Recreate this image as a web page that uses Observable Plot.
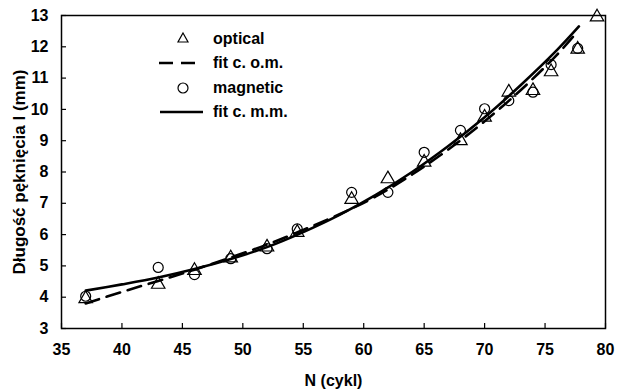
<!DOCTYPE html>
<html>
<head>
<meta charset="utf-8">
<script src="https://cdn.jsdelivr.net/npm/d3@7"></script>
<script src="https://cdn.jsdelivr.net/npm/@observablehq/plot@0.6"></script>
<style>
  html, body { margin: 0; padding: 0; background: #fff; }
  #wrap { position: relative; width: 619px; height: 392px; font-family: "Liberation Sans", Arial, sans-serif; }
  #legend { position: absolute; left: 155px; top: 28px; font-weight: bold; font-size: 16px; color: #000; }
  #legend .row { position: relative; height: 24.3px; line-height: 22px; }
  #legend svg { position: absolute; left: 0; top: 0; }
  #legend span { position: absolute; left: 58px; top: 0; white-space: nowrap; }
</style>
</head>
<body>
<div id="wrap"></div>
<script>
// Data
const N_optical = [37, 43, 46, 49, 52, 54.5, 59, 62, 65, 68, 70, 72, 74, 75.5, 77.7, 79.3];
const L_optical = [3.95, 4.41, 4.85, 5.25, 5.6, 6.07, 7.12, 7.78, 8.31, 9.0, 9.75, 10.55, 10.6, 11.2, 11.92, 12.95];
const N_magnetic = [37, 43, 46, 49, 52, 54.5, 59, 62, 65, 68, 70, 72, 74, 75.5, 77.7];
const L_magnetic = [4.03, 4.95, 4.72, 5.23, 5.55, 6.18, 7.35, 7.35, 8.63, 9.33, 10.02, 10.28, 10.55, 11.43, 11.95];
const N_fit_om = [37, 40, 43, 46, 49, 52, 55, 58, 61, 64, 67, 70, 73, 76, 77.6];
const L_fit_om = [3.80, 4.17, 4.52, 4.88, 5.27, 5.68, 6.15, 6.65, 7.22, 7.92, 8.72, 9.62, 10.62, 11.75, 12.45];
const N_fit_mm = [37, 40, 43, 46, 49, 52, 55, 58, 61, 64, 67, 70, 73, 76, 77.8];
const L_fit_mm = [4.21, 4.41, 4.63, 4.9, 5.22, 5.6, 6.08, 6.63, 7.27, 8.0, 8.83, 9.75, 10.78, 11.9, 12.65];
const xTicks = [35, 40, 45, 50, 55, 60, 65, 70, 75, 80];
const yTicks = [3, 4, 5, 6, 7, 8, 9, 10, 11, 12, 13];
const legendLabels = ["optical", "fit c. o.m.", "magnetic", "fit c. m.m."];

const zip = (xs, ys) => xs.map((x, i) => ({x, y: ys[i]}));
const optical = zip(N_optical, L_optical);
const magnetic = zip(N_magnetic, L_magnetic);
const fitOM = zip(N_fit_om, L_fit_om);
const fitMM = zip(N_fit_mm, L_fit_mm);

const W = 619, H = 392, mL = 61, mR = 14, mT = 15, mB = 64;
const plotW = W - mL - mR, plotH = H - mT - mB;

const chart = Plot.plot({
  width: W, height: H,
  marginLeft: mL, marginRight: mR, marginTop: mT, marginBottom: mB,
  style: {fontFamily: "'Liberation Sans', Arial, sans-serif", fontSize: "16px", fontWeight: "bold", color: "#000", background: "#fff"},
  x: {domain: [35, 80]},
  y: {domain: [3, 13]},
  marks: [
    Plot.axisX({ticks: xTicks, tickSize: 0, tickPadding: 15, label: null, fontSize: 16, fontWeight: "bold"}),
    Plot.axisX({ticks: [], tickSize: 0, label: "N (cykl)", labelAnchor: "center", labelOffset: 57, labelArrow: "none", fontSize: 16, fontWeight: "bold"}),
    Plot.axisY({ticks: yTicks, tickSize: 0, tickPadding: 13, label: null, fontSize: 16, fontWeight: "bold"}),
    Plot.axisY({ticks: [], tickSize: 0, label: "Długość pęknięcia l (mm)", labelAnchor: "center", labelOffset: 49, labelArrow: "none", fontSize: 17, fontWeight: "bold"}),
    Plot.ruleX(xTicks, {x: d => d, insetTop: plotH - 5, stroke: "#000", strokeWidth: 1.2}),
    Plot.ruleY(yTicks, {y: d => d, insetRight: plotW - 5, stroke: "#000", strokeWidth: 1.2}),
    Plot.line(fitOM, {x: "x", y: "y", curve: "catmull-rom", stroke: "#000", strokeWidth: 2.6, strokeDasharray: "14,8"}),
    Plot.line(fitMM, {x: "x", y: "y", curve: "catmull-rom", stroke: "#000", strokeWidth: 2.6}),
    Plot.dot(optical, {x: "x", y: "y", symbol: "triangle", r: 5, stroke: "#000", strokeWidth: 1.2, fill: "none"}),
    Plot.dot(magnetic, {x: "x", y: "y", symbol: "circle", r: 5, stroke: "#000", strokeWidth: 1.2, fill: "none"}),
    Plot.frame({stroke: "#000", strokeWidth: 1.5})
  ]
});

const wrap = document.getElementById("wrap");
wrap.appendChild(chart);

// Legend overlay
const legend = document.createElement("div");
legend.id = "legend";
const symbols = [
  '<svg width="50" height="22"><path d="M28,5 L33,14 L23,14 Z" fill="none" stroke="#000" stroke-width="1.2"/></svg>',
  '<svg width="50" height="22"><line x1="4" y1="11" x2="44" y2="11" stroke="#000" stroke-width="2.6" stroke-dasharray="14,8"/></svg>',
  '<svg width="50" height="22"><circle cx="28" cy="11" r="5" fill="none" stroke="#000" stroke-width="1.2"/></svg>',
  '<svg width="50" height="22"><line x1="5" y1="11" x2="48" y2="11" stroke="#000" stroke-width="2.6"/></svg>'
];
legendLabels.forEach((lab, i) => {
  const row = document.createElement("div");
  row.className = "row";
  row.innerHTML = symbols[i] + "<span>" + lab + "</span>";
  legend.appendChild(row);
});
wrap.appendChild(legend);
</script>
</body>
</html>
